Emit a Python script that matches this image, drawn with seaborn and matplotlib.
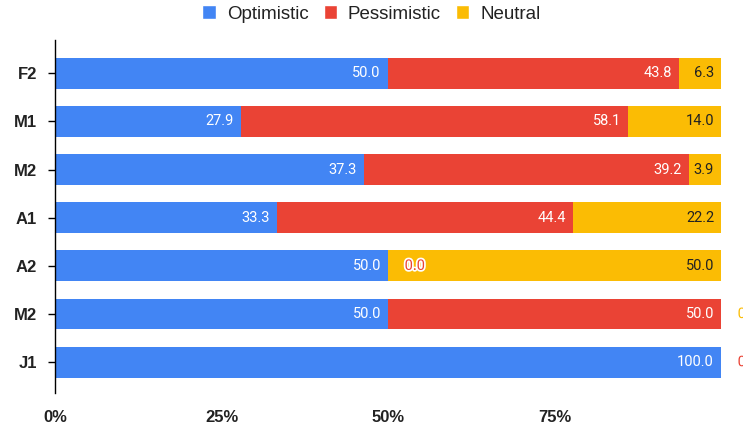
import numpy as np
import pandas as pd
import matplotlib
matplotlib.use("Agg")
import matplotlib.pyplot as plt
import matplotlib.patheffects as pe
import seaborn as sns
from matplotlib.patches import Patch

# data
rows = ["F2", "M1", "M2", "A1", "A2", "M2", "J1"]
optimistic = [50.0, 27.9, 37.3, 33.3, 50.0, 50.0, 100.0]
pessimistic = [43.8, 58.1, 39.2, 44.4, 0.0, 50.0, 0.0]
neutral = [6.3, 14.0, 3.9, 22.2, 50.0, 0.0, 0.0]
series = ["Optimistic", "Pessimistic", "Neutral"]
xtick_vals = [0, 0.25, 0.5, 0.75]

palette = {"Optimistic": "#4285F4", "Pessimistic": "#EA4335", "Neutral": "#FBBC04"}
text_col = {"Optimistic": "white", "Pessimistic": "white", "Neutral": "#222222"}
zero_z = {"Optimistic": 5, "Pessimistic": 6, "Neutral": 4}

sns.set_theme(style="white")
plt.rcParams["font.family"] = ["Liberation Sans", "DejaVu Sans"]

df = pd.DataFrame({"row": range(len(rows)), "Optimistic": optimistic,
                   "Pessimistic": pessimistic, "Neutral": neutral})
total = df[series].sum(axis=1)
share = df[series].div(total, axis=0)
cum = share.cumsum(axis=1)

fig = plt.figure(figsize=(7.43, 4.28), dpi=100)
ax = fig.add_axes([55 / 743, 1 - 393 / 428, 666 / 743, 353 / 428])

# stacked bars: draw cumulative ends back to front
for s in reversed(series):
    sns.barplot(x=cum[s], y=df["row"], orient="h", color=palette[s],
                width=0.64, saturation=1, ax=ax, linewidth=0)

for s in series:
    for i in range(len(rows)):
        v = df.loc[i, s]
        end = cum.loc[i, s]
        if v > 0:
            ax.annotate(f"{v:.1f}", (end, i), xytext=(-5, 0), textcoords="offset points",
                        ha="right", va="center", color=text_col[s], fontsize=10.5,
                        family=["Roboto", "DejaVu Sans"])
        else:
            # zero-width segments get their label just outside the bar end
            ax.annotate(f"{v:.1f}", (end, i), xytext=(12, 0), textcoords="offset points",
                        ha="left", va="center", color=palette[s], fontsize=10.5,
                        family=["Roboto", "DejaVu Sans"], annotation_clip=False,
                        zorder=zero_z[s],
                        path_effects=[pe.withStroke(linewidth=2.5, foreground="white")])

ax.set_xlim(0, 1)
ax.set_ylim(6.64, -0.69)
ax.set_xticks(xtick_vals)
ax.set_xticklabels([f"{int(t * 100)}%" for t in xtick_vals], fontsize=12, fontweight="bold", color="#222222")
ax.set_yticks(range(len(rows)))
ax.set_yticklabels(rows, fontsize=12, fontweight="bold", color="#222222")
ax.set_xlabel("")
ax.set_ylabel("")
ax.tick_params(axis="x", length=0, pad=12)
ax.tick_params(axis="y", length=5, width=1, color="black", pad=8, left=True)
for sp in ["top", "right", "bottom"]:
    ax.spines[sp].set_visible(False)
ax.spines["left"].set_color("black")
ax.spines["left"].set_linewidth(1)

handles = [Patch(facecolor=palette[s], label=s) for s in series]
fig.legend(handles=handles, loc="center", bbox_to_anchor=(0.5, 1 - 14 / 428), ncol=3,
           frameon=False, fontsize=13.5, handlelength=0.7, handleheight=0.7,
           handletextpad=0.6, columnspacing=0.8, labelcolor="#222222")

fig.savefig("out.png", dpi=100, facecolor="white")
